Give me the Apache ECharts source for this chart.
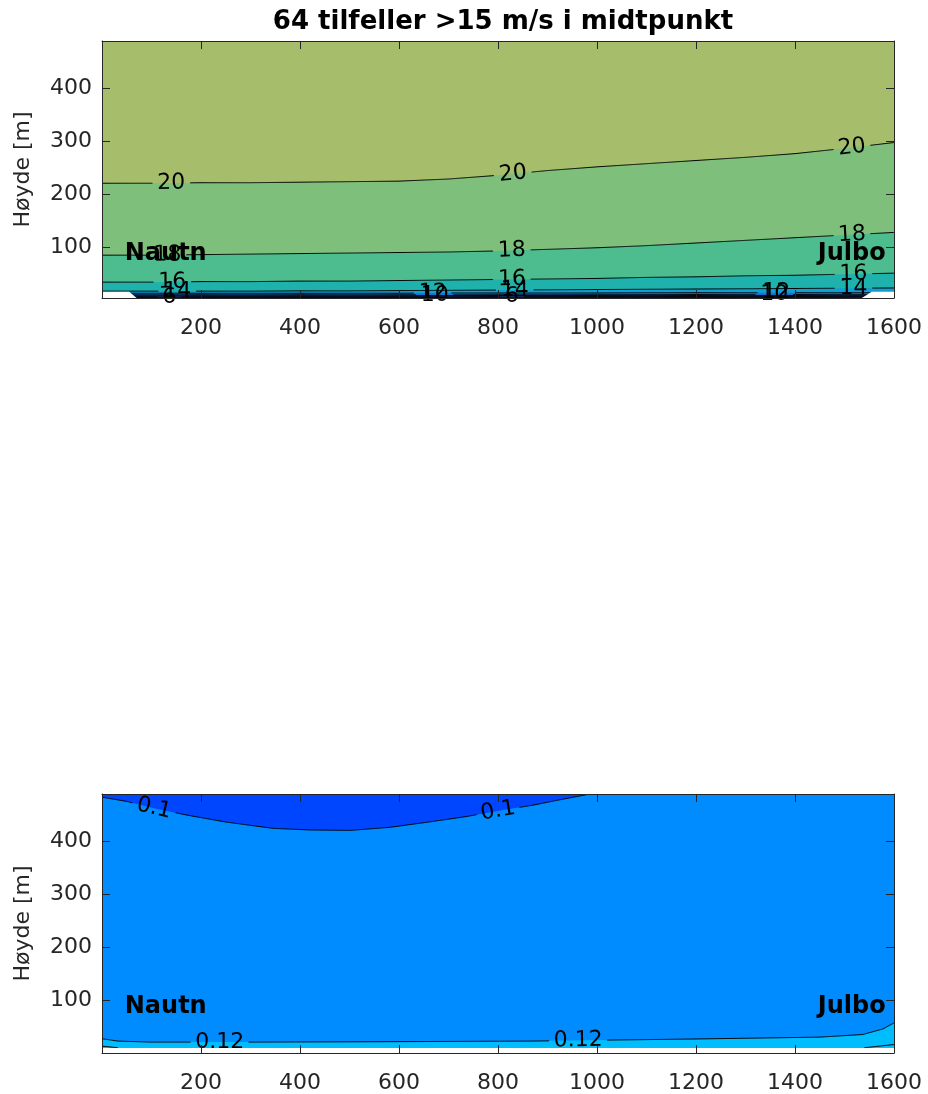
<!DOCTYPE html>
<html><head><meta charset="utf-8">
<script src="https://cdn.jsdelivr.net/npm/echarts@6/dist/echarts.min.js"></script>
<style>html,body{margin:0;padding:0;background:#fff;}#c{width:928px;height:1094px;}</style>
</head><body><div id="c"></div>
<script>
// ---------- data ----------
const titleText = '64 tilfeller >15 m/s i midtpunkt';
const yName = 'Høyde [m]';
const xTicks = [200, 400, 600, 800, 1000, 1200, 1400, 1600];
const yTicks = [100, 200, 300, 400];

// top panel: contour heights (m) of wind speed levels along the section
const xTop = [0, 100, 200, 300, 400, 500, 600, 700, 800, 900, 1000, 1100, 1200, 1300, 1400, 1500, 1600];
const top20 = [221, 221, 222, 222, 223, 224, 225, 229, 236, 245, 252, 258, 264, 270, 277, 287, 298];
const top18 = [85, 85, 86, 87, 88, 89, 90, 91, 93, 96, 99, 103, 108, 113, 118, 123, 128];
const top16 = [34, 34, 35, 35, 36, 36, 37, 38, 39, 40, 41, 43, 44, 46, 47, 49, 51];
const top14 = [17, 17, 17, 17, 17.5, 17.5, 18, 18.5, 19, 19.5, 20, 20.5, 21, 21.5, 22, 22.5, 23];
const top12 = [13, 13, 13, 13, 13, 13, 13, 13.5, 13.5, 13.5, 13.5, 14, 14, 14, 14, 14, 14];
const top10 = [10, 10, 10, 10, 10, 10, 10, 10, 10, 10, 10, 10.5, 10.5, 10.5, 10.5, 10.5, 10.5];
const top8 = [8, 8, 8, 8, 8, 8, 8, 8.5, 8.5, 8.5, 8.5, 8.5, 8.5, 8.5, 8.5, 8.5, 8.5];
const top6 = [6, 6, 6, 6, 6, 6, 6, 6, 6.5, 6.5, 6.5, 6.5, 6.5, 6.5, 6.5, 6.5, 6.5];
const groundTopX = [0, 55, 70, 1535, 1555, 1600];
const groundTopH = [16, 16, 4, 4, 16, 16];
// label x-positions on each level
const labTop20 = [140, 830, 1515];
const labTop18 = [132, 828, 1515];
const labTop16 = [142, 828, 1518];
const labTop14 = [152, 834, 1518];
const labTop12 = [668, 1362];
const labTop10 = [672, 1358];
const labTop6 = [136, 828];

// bottom panel
const b010X = [0, 50, 105, 172, 250, 345, 420, 500, 582, 660, 737, 800, 871, 930, 986];
const b010H = [484, 476, 463, 450, 437, 425, 422, 421, 427, 437, 447.5, 458, 469, 480, 490];
const b012X = [0, 32, 100, 300, 600, 865, 1020, 1200, 1450, 1537, 1578, 1600];
const b012H = [27, 22.5, 20.6, 20.6, 21.5, 22.5, 24.4, 26.5, 30, 35, 45.6, 57];
const b014aX = [0, 32];
const b014aH = [13, 10];
const b014bX = [1540, 1600];
const b014bH = [10, 16];
const groundBotX = [0, 1600];
const groundBotH = [9.5, 9.5];
const labBot010 = [105, 800];
const labBot012 = [238, 962];

const places = [{name: 'Nautn', x: 46, h: 87}, {name: 'Julbo', x: 1446, h: 87}];

// ---------- styling ----------
const FONT = '"DejaVu Sans"';
const AX = '#262626';
const topBg = '#a6be6c';
const topFill = {18: '#7dbf7b', 16: '#4dbd90', 14: '#1fb2ad', 12: '#119fd0', 10: '#1478d6', 8: '#1e5cc8', 6: '#1a2f78', 4: '#0a1426'};
const botBg = '#008cff', botDark = '#0046ff', botCyan = '#00bdff';

function pairs(xs, hs) { return xs.map((x, i) => [x, hs[i]]); }
function interp(xs, hs, x) {
  if (x <= xs[0]) return hs[0];
  for (let i = 1; i < xs.length; i++) if (x <= xs[i]) { const t = (x - xs[i-1]) / (xs[i] - xs[i-1]); return hs[i-1] + t * (hs[i] - hs[i-1]); }
  return hs[hs.length - 1];
}
function textW(s, fs) { let w = 0; for (const ch of s) w += (ch === '.' ? 0.318 : 0.636); return w * fs; }

function fillSeries(g, xs, hs, color, origin) {
  return {type: 'line', xAxisIndex: 2*g, yAxisIndex: 2*g, data: pairs(xs, hs), symbol: 'none', silent: true, animation: false,
    lineStyle: {opacity: 0, width: 0}, areaStyle: {color: color, opacity: 1, origin: origin}, z: 2};
}

function labelGeom(api, L) {
  return (L.labels || []).map(lx => {
    const c = api.coord([lx, interp(L.x, L.h, lx)]);
    const a = api.coord([lx - 15, interp(L.x, L.h, lx - 15)]);
    const b = api.coord([lx + 15, interp(L.x, L.h, lx + 15)]);
    const ang = Math.atan2(b[1] - a[1], b[0] - a[0]);
    const half = textW(L.text, 22) / 2 + 4;
    return {c: c, ang: ang, x0: c[0] - half * Math.cos(ang), x1: c[0] + half * Math.cos(ang)};
  });
}
function poly(pts) { return {type: 'polyline', shape: {points: pts, smooth: 0.3}, style: {stroke: '#000', lineWidth: 1, fill: null}}; }

function strokeSeries(g, lines) {
  return {type: 'custom', xAxisIndex: 2*g, yAxisIndex: 2*g, data: [[800, 200]], silent: true, animation: false, clip: true, z: 2,
    renderItem: function (params, api) {
      const children = [];
      lines.forEach(L => {
        const gs = labelGeom(api, L);
        const pts = L.x.map((x, i) => api.coord([x, L.h[i]]));
        const inGap = s => gs.some(q => s[0] > q.x0 && s[0] < q.x1);
        let run = [];
        for (let i = 0; i < pts.length - 1; i++) {
          const p = pts[i], q = pts[i+1];
          const n = Math.max(1, Math.ceil(Math.hypot(q[0]-p[0], q[1]-p[1])));
          for (let k = (i === 0 ? 0 : 1); k <= n; k++) {
            const t = k / n; const s = [p[0] + t*(q[0]-p[0]), p[1] + t*(q[1]-p[1])];
            if (inGap(s)) { if (run.length > 1) children.push(poly(run)); run = []; } else run.push(s);
          }
        }
        if (run.length > 1) children.push(poly(run));
      });
      return {type: 'group', children: children};
    }};
}
function labelSeries(g, lines) {
  return {type: 'custom', xAxisIndex: 2*g, yAxisIndex: 2*g, data: [[800, 200]], silent: true, animation: false, z: 3,
    renderItem: function (params, api) {
      const children = [];
      lines.forEach(L => {
        labelGeom(api, L).forEach(q => {
          children.push({type: 'text', x: q.c[0], y: q.c[1], rotation: -q.ang,
            style: {text: L.text, fill: '#000', font: '22px ' + FONT, align: 'center', verticalAlign: 'middle'}});
        });
      });
      places.forEach(p => {
        const c = api.coord([p.x, p.h]);
        children.push({type: 'text', x: c[0], y: c[1],
          style: {text: p.name, fill: '#000', font: 'bold 24px ' + FONT, align: 'left', verticalAlign: 'middle'}});
      });
      return {type: 'group', children: children};
    }};
}

const topLines = [
  {x: xTop, h: top20, text: '20', labels: labTop20},
  {x: xTop, h: top18, text: '18', labels: labTop18},
  {x: xTop, h: top16, text: '16', labels: labTop16},
  {x: xTop, h: top14, text: '14', labels: labTop14},
  {x: xTop, h: top12, text: '12', labels: labTop12},
  {x: xTop, h: top10, text: '10', labels: labTop10},
  {x: xTop, h: top8, text: '8', labels: []},
  {x: xTop, h: top6, text: '6', labels: labTop6}
];
const botLines = [
  {x: b010X, h: b010H, text: '0.1', labels: labBot010},
  {x: b012X, h: b012H, text: '0.12', labels: labBot012},
  {x: b014aX, h: b014aH, text: '0.14', labels: []},
  {x: b014bX, h: b014bH, text: '0.14', labels: []}
];

const grids = [
  {left: 102, top: 41, width: 792, height: 257, show: true, backgroundColor: topBg, borderWidth: 0},
  {left: 102, top: 794, width: 792, height: 261, show: true, backgroundColor: botBg, borderWidth: 0}
];
const yMin = [4, 0], yMax = [490, 490];
const plain = v => String(v);
const xAxes = [], yAxes = [];
[0, 1].forEach(g => {
  const line = {show: true, onZero: false, lineStyle: {color: AX, width: 1}};
  xAxes.push({gridIndex: g, type: 'value', min: 0, max: 1600, position: 'bottom', z: 10, axisLine: line,
    axisTick: {show: true, inside: true, length: 8, customValues: xTicks, lineStyle: {color: AX}},
    axisLabel: {show: true, customValues: xTicks, formatter: plain, fontSize: 22, fontFamily: FONT, color: AX, margin: 19},
    splitLine: {show: false}});
  xAxes.push({gridIndex: g, type: 'value', min: 0, max: 1600, position: 'top', z: 10, axisLine: line,
    axisTick: {show: true, inside: true, length: 8, customValues: xTicks, lineStyle: {color: AX}},
    axisLabel: {show: false}, splitLine: {show: false}});
  yAxes.push({gridIndex: g, type: 'value', min: yMin[g], max: yMax[g], position: 'left', z: 10, axisLine: line,
    axisTick: {show: true, inside: true, length: 8, customValues: yTicks, lineStyle: {color: AX}},
    axisLabel: {show: true, customValues: yTicks, formatter: plain, fontSize: 22, fontFamily: FONT, color: AX, margin: 10},
    name: yName, nameLocation: 'middle', nameGap: 68, nameRotate: 90,
    nameTextStyle: {fontSize: 22, fontFamily: FONT, color: AX},
    splitLine: {show: false}});
  yAxes.push({gridIndex: g, type: 'value', min: yMin[g], max: yMax[g], position: 'right', z: 10, axisLine: line,
    axisTick: {show: true, inside: true, length: 8, customValues: yTicks, lineStyle: {color: AX}},
    axisLabel: {show: false}, splitLine: {show: false}});
});

const series = [
  fillSeries(0, xTop, top20, topFill[18], 'start'),
  fillSeries(0, xTop, top18, topFill[16], 'start'),
  fillSeries(0, xTop, top16, topFill[14], 'start'),
  fillSeries(0, xTop, top14, topFill[12], 'start'),
  fillSeries(0, xTop, top12, topFill[10], 'start'),
  fillSeries(0, xTop, top10, topFill[8], 'start'),
  fillSeries(0, xTop, top8, topFill[6], 'start'),
  fillSeries(0, xTop, top6, topFill[4], 'start'),
  strokeSeries(0, topLines),
  fillSeries(0, groundTopX, groundTopH, '#ffffff', 'start'),
  labelSeries(0, topLines),

  fillSeries(1, b010X, b010H, botDark, 'end'),
  fillSeries(1, b012X, b012H, botCyan, 'start'),
  strokeSeries(1, botLines),
  fillSeries(1, groundBotX, groundBotH, '#ffffff', 'start'),
  labelSeries(1, botLines)
];

const chart = echarts.init(document.getElementById('c'), null, {renderer: 'canvas'});
chart.setOption({
  animation: false,
  backgroundColor: '#ffffff',
  title: {text: titleText, left: 498, top: 4, textAlign: 'center',
    textStyle: {fontFamily: FONT, fontSize: 26, fontWeight: 'bold', color: '#000'}},
  grid: grids, xAxis: xAxes, yAxis: yAxes, series: series
});
</script></body></html>
